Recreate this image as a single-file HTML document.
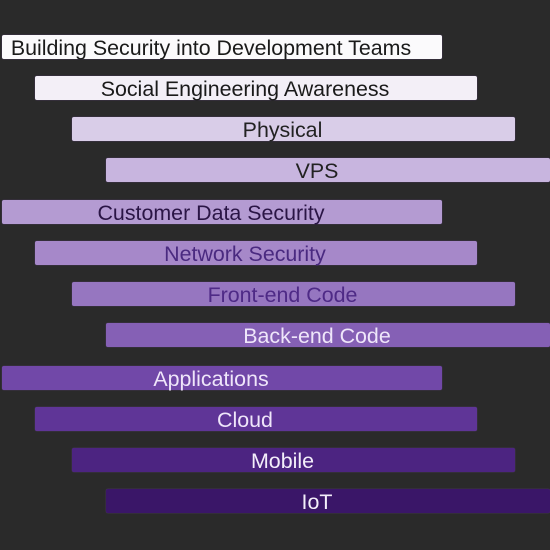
<!DOCTYPE html>
<html><head><meta charset="utf-8"><style>
html,body{margin:0;padding:0;}
body{width:550px;height:550px;background:#2a2a2a;position:relative;overflow:hidden;font-family:"Liberation Sans",sans-serif;}
.b{position:absolute;height:24px;border-radius:2px;font-size:21.4px;line-height:26px;text-align:center;box-sizing:border-box;padding-right:22px;white-space:nowrap;box-shadow:0 0 1px rgba(120,80,170,.8);}
</style></head><body>
<div class="b" style="left:2px;top:35px;width:440px;background:#fbfafc;color:#1a1a1a">Building Security into Development Teams</div>
<div class="b" style="left:35px;top:76px;width:442px;background:#f3eff7;color:#1a1a1a">Social Engineering Awareness</div>
<div class="b" style="left:72px;top:117px;width:443px;background:#d9cde8;color:#222">Physical</div>
<div class="b" style="left:106px;top:158px;width:444px;background:#c8b5df;color:#222">VPS</div>
<div class="b" style="left:2px;top:200px;width:440px;background:#b49bd2;color:#2a1545">Customer Data Security</div>
<div class="b" style="left:35px;top:241px;width:442px;background:#a688c9;color:#4a2a80">Network Security</div>
<div class="b" style="left:72px;top:282px;width:443px;background:#9676c0;color:#4e2a86">Front-end Code</div>
<div class="b" style="left:106px;top:323px;width:444px;background:#8560b5;color:#efe6fa">Back-end Code</div>
<div class="b" style="left:2px;top:366px;width:440px;background:#7148a8;color:#efe6fa">Applications</div>
<div class="b" style="left:35px;top:407px;width:442px;background:#5f3597;color:#efe6fa">Cloud</div>
<div class="b" style="left:72px;top:448px;width:443px;background:#4c2481;color:#f3eefa">Mobile</div>
<div class="b" style="left:106px;top:489px;width:444px;background:#3a1668;color:#f3eefa">IoT</div>
</body></html>
